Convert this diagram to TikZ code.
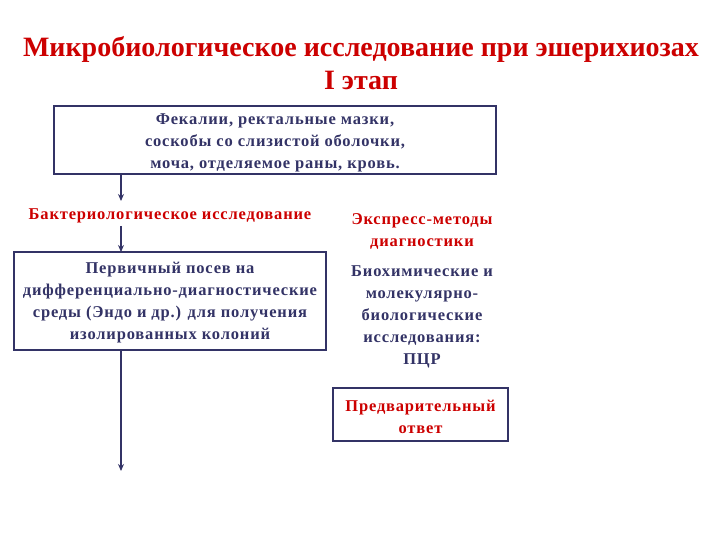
\documentclass[tikz,border=0pt]{standalone}
\usepackage{fontspec}
\setmainfont{Liberation Serif}
\newfontfamily\spaced[LetterSpace=5]{Liberation Serif}
\usetikzlibrary{arrows.meta}
\definecolor{tred}{HTML}{CC0000}
\definecolor{navy}{HTML}{333366}
\tikzset{
  box/.style={draw=navy, line width=1.6pt, inner sep=0pt},
  txt/.style={text=navy, font=\spaced\bfseries\fontsize{16.5}{22}\selectfont, align=center},
  rtxt/.style={text=tred, font=\spaced\bfseries\fontsize{16.5}{22}\selectfont, align=center},
  arr/.style={draw=navy, line width=1.6pt, -{Stealth[length=7pt,width=6pt]}},
}
\begin{document}
\begin{tikzpicture}[x=1pt,y=-1pt]
\useasboundingbox (0,0) rectangle (720,540);
\node[text=tred, font=\bfseries\fontsize{28}{33}\selectfont, align=center] (title) at (361,63) {Микробиологическое исследование при эшерихиозах\\I этап};
\node[box, minimum width=442pt, minimum height=68pt] (b1) at (275,140) {};
\node[txt] (t1) at (275,143) {Фекалии, ректальные мазки,\\соскобы со слизистой оболочки,\\моча, отделяемое раны, кровь.};
\node[rtxt] (bak) at (170,216) {Бактериологическое исследование};
\node[box, minimum width=312pt, minimum height=98pt] (b2) at (170,301) {};
\node[txt] (t2) at (170,303) {Первичный посев на\\дифференциально-диагностические\\среды (Эндо и др.) для получения\\изолированных колоний};
\node[rtxt] (exp) at (422,231) {Экспресс-методы\\диагностики};
\node[txt] (bio) at (422,317) {Биохимические и\\молекулярно-\\биологические\\исследования:\\ПЦР};
\node[box, minimum width=175pt, minimum height=53pt] (b3) at (420.5,414.5) {};
\node[rtxt] (pre) at (420.5,417) {Предварительный\\ответ};
\coordinate (a1s) at (121,174);
\coordinate (a1e) at (121,201);
\coordinate (a2s) at (121,226);
\coordinate (a2e) at (121,252);
\coordinate (a3s) at (121,350);
\coordinate (a3e) at (121,471);
\draw[arr] (a1s) -- (a1e);
\draw[arr] (a2s) -- (a2e);
\draw[arr] (a3s) -- (a3e);
\end{tikzpicture}
\end{document}
